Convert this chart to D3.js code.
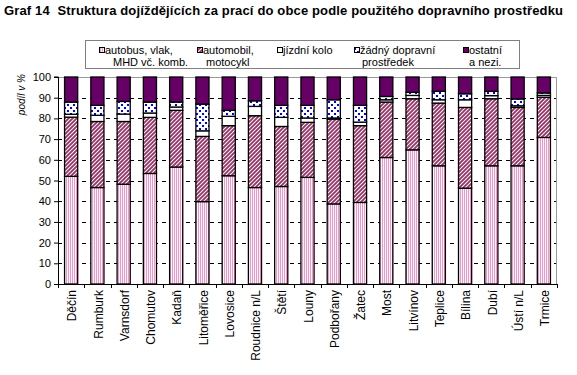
<!DOCTYPE html>
<html>
<head>
<meta charset="utf-8">
<script src="https://cdn.jsdelivr.net/npm/d3@7"></script>
<style>
  body { margin: 0; background: #fff; }
  svg { display: block; font-family: "Liberation Sans", Arial, sans-serif; }
</style>
</head>
<body>
<svg></svg>
<script>
// Data
const towns = ["Děčín", "Rumburk", "Varnsdorf", "Chomutov", "Kadaň", "Litoměřice", "Lovosice",
  "Roudnice n/L", "Štětí", "Louny", "Podbořany", "Žatec", "Most", "Litvínov", "Teplice",
  "Bílina", "Dubí", "Ústí n/L", "Trmice"];
const autobus =   [52.0, 46.6, 48.2, 53.4, 56.5, 39.8, 52.3, 46.6, 47.1, 51.5, 38.7, 39.4, 61.1, 64.8, 57.1, 46.3, 57.1, 57.1, 70.8];
const automobil = [28.6, 31.9, 30.3, 27.1, 27.4, 31.5, 24.2, 34.7, 29.0, 26.6, 41.0, 37.1, 26.8, 24.7, 30.3, 39.0, 32.4, 28.2, 19.4];
const kolo =      [1.4, 3.0, 3.6, 2.1, 1.6, 2.7, 4.5, 4.5, 4.4, 2.1, 0.5, 1.7, 1.1, 1.6, 1.6, 3.7, 1.5, 0.8, 0.9];
const zadny =     [5.9, 4.8, 6.1, 5.3, 2.4, 12.9, 2.9, 2.7, 5.8, 6.1, 8.8, 8.1, 1.6, 1.5, 4.1, 2.9, 2.1, 3.3, 1.2];
const ostatni =   [12.1, 13.7, 11.8, 12.1, 12.1, 13.1, 16.1, 11.5, 13.7, 13.7, 11.0, 13.7, 9.4, 7.4, 6.9, 8.1, 6.9, 10.6, 7.7];
const yTicks = [0, 10, 20, 30, 40, 50, 60, 70, 80, 90, 100];

const keys = ["autobus", "automobil", "kolo", "zadny", "ostatni"];
const legendLines = [
  ["autobus, vlak,", "MHD vč. komb."],
  ["automobil,", "motocykl"],
  ["jízdní kolo", ""],
  ["žádný dopravní", "prostředek"],
  ["ostatní", "a nezi."]
];

const table = towns.map((t, i) => ({
  town: t, autobus: autobus[i], automobil: automobil[i], kolo: kolo[i], zadny: zadny[i], ostatni: ostatni[i]
}));

// Size
const W = 577, H = 375;
const m = { l: 58, r: 20, t: 77, b: 91 };
const width = W - m.l - m.r;
const height = H - m.t - m.b;

const svg = d3.select("svg").attr("width", W).attr("height", H);
const defs = svg.append("defs");

// Patterns
const p1 = defs.append("pattern").attr("id", "p-autobus")
  .attr("patternUnits", "userSpaceOnUse").attr("width", 2).attr("height", 4);
p1.append("rect").attr("width", 2).attr("height", 4).attr("fill", "#fff");
p1.append("rect").attr("width", 1).attr("height", 4).attr("fill", "#ff8fc8");

const p2 = defs.append("pattern").attr("id", "p-automobil")
  .attr("patternUnits", "userSpaceOnUse").attr("width", 4).attr("height", 4);
p2.append("rect").attr("width", 4).attr("height", 4).attr("fill", "#fff");
p2.append("path").attr("d", "M-1,1 L1,-1 M0,4 L4,0 M3,5 L5,3")
  .attr("stroke", "#993366").attr("stroke-width", 1.9);

const p4 = defs.append("pattern").attr("id", "p-zadny")
  .attr("patternUnits", "userSpaceOnUse").attr("width", 6).attr("height", 6);
p4.append("rect").attr("width", 6).attr("height", 6).attr("fill", "#fff");
p4.append("rect").attr("x", 0).attr("y", 0).attr("width", 2).attr("height", 2).attr("fill", "#0000ff");
p4.append("rect").attr("x", 3).attr("y", 3).attr("width", 2).attr("height", 2).attr("fill", "#0000ff");

const fills = {
  autobus: "url(#p-autobus)",
  automobil: "url(#p-automobil)",
  kolo: "#ffffff",
  zadny: "url(#p-zadny)",
  ostatni: "#660066"
};

// Title
svg.append("text")
  .attr("x", 4).attr("y", 15)
  .attr("font-size", 13).attr("font-weight", "bold")
  .attr("letter-spacing", 0.15)
  .style("white-space", "pre")
  .text("Graf 14  Struktura dojíždějících za prací do obce podle použitého dopravního prostředku");

// Legend
const lg = svg.append("g");
lg.append("rect").attr("x", 85.5).attr("y", 40.5).attr("width", 434).attr("height", 28)
  .attr("fill", "#fff").attr("stroke", "#808080");
const legendX = [99, 197, 277, 354, 463];
const legend2X = [113, 206, 0, 362, 469];
keys.forEach((k, i) => {
  lg.append("rect").attr("x", legendX[i] + 0.5).attr("y", 47.5).attr("width", 5).attr("height", 5)
    .attr("fill", fills[k]).attr("stroke", "#000");
  lg.append("text").attr("x", legendX[i] + 6).attr("y", 54).attr("font-size", 11).text(legendLines[i][0]);
  if (legendLines[i][1]) {
    lg.append("text").attr("x", legend2X[i]).attr("y", 66).attr("font-size", 11).text(legendLines[i][1]);
  }
});

const g = svg.append("g").attr("transform", `translate(${m.l},${m.t})`);

// Scales
const x = d3.scaleBand().domain(towns).range([0, width]).paddingInner(0.5).paddingOuter(0.25);
const y = d3.scaleLinear().domain([0, 100]).range([height, 0]);

// Grid
g.append("g").selectAll("line").data(yTicks.filter(d => d > 0 && d < 100)).join("line")
  .attr("x1", 0).attr("x2", width)
  .attr("y1", d => Math.round(y(d)) + 0.5).attr("y2", d => Math.round(y(d)) + 0.5)
  .attr("stroke", "#000").attr("stroke-dasharray", "4,4");

// Plot border (top, right)
g.append("path")
  .attr("d", `M0,0.5 H${width - 0.5} V${height}`)
  .attr("fill", "none").attr("stroke", "#999");

// Bars
const series = d3.stack().keys(keys)(table);
g.append("g").selectAll("g").data(series).join("g")
  .attr("fill", s => fills[s.key])
  .selectAll("rect").data(d => d).join("rect")
    .attr("x", d => x(d.data.town))
    .attr("width", x.bandwidth())
    .attr("y", d => y(d[1]))
    .attr("height", d => y(d[0]) - y(d[1]))
    .attr("stroke", "#000").attr("stroke-width", 1.3);

// Axes
g.append("g")
  .call(d3.axisLeft(y).tickValues(yTicks).tickSize(4).tickPadding(3))
  .call(a => a.selectAll("text").attr("font-size", 11).attr("font-family", "Liberation Sans, Arial, sans-serif").attr("fill", "#000"))
  .call(a => a.select(".domain").attr("d", `M-4,${height + 0.5}H0.5V0H-4`));

const xAxis = g.append("g").attr("transform", `translate(0,${height})`);
xAxis.append("line").attr("x1", 0).attr("x2", width).attr("y1", 0.5).attr("y2", 0.5).attr("stroke", "#000");
xAxis.selectAll("line.tk").data(d3.range(towns.length + 1)).join("line")
  .attr("class", "tk")
  .attr("x1", i => Math.round(i * width / towns.length) + 0.5)
  .attr("x2", i => Math.round(i * width / towns.length) + 0.5)
  .attr("y1", 0).attr("y2", 4).attr("stroke", "#000");
xAxis.selectAll("text").data(towns).join("text")
  .attr("transform", d => `translate(${x(d) + x.bandwidth() / 2 + 1},6) rotate(-90)`)
  .attr("text-anchor", "end").attr("dy", "0.35em")
  .attr("font-size", 12)
  .text(d => d);

// Y title
svg.append("text")
  .attr("transform", "translate(21,74) rotate(-90)")
  .attr("text-anchor", "end").attr("dy", "0.35em")
  .attr("font-size", 10).attr("font-style", "italic")
  .text("podíl v %");
</script>
</body>
</html>
